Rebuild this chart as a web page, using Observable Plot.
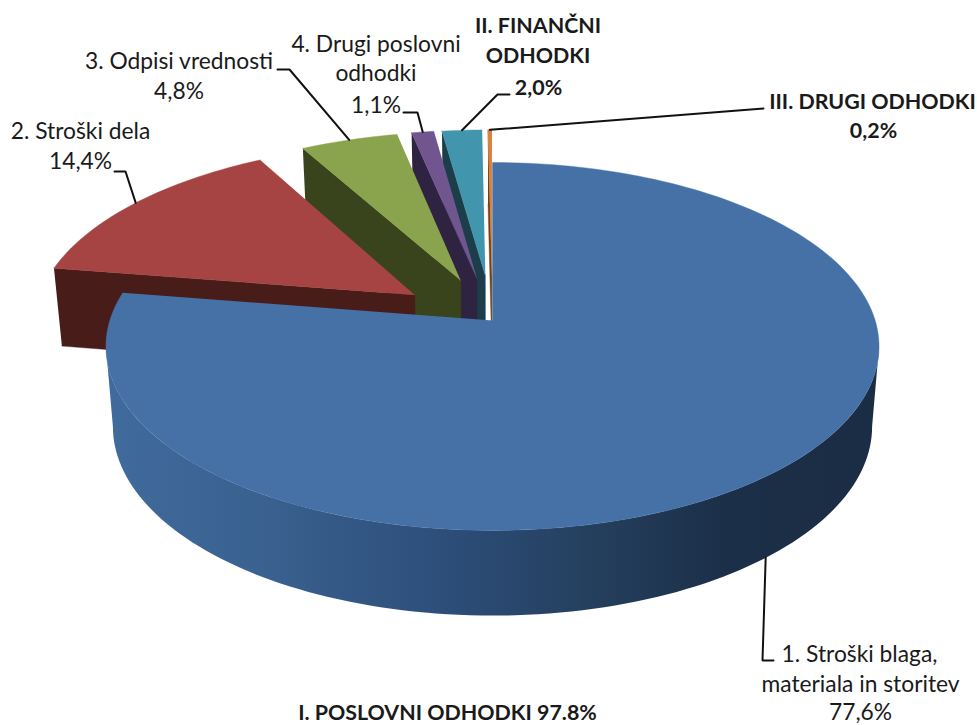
<!DOCTYPE html>
<html>
<head>
<meta charset="utf-8">
<script src="https://cdn.jsdelivr.net/npm/d3@7"></script>
<script src="https://cdn.jsdelivr.net/npm/@observablehq/plot@0.6"></script>
<style>
  html, body { margin: 0; padding: 0; background: #fff; overflow: hidden; }
  svg { display: block; }
</style>
</head>
<body>
<div id="chart"></div>
<script>
// ---- data ----
const categories = [
  "1. Stroški blaga, materiala in storitev",
  "2. Stroški dela",
  "3. Odpisi vrednosti",
  "4. Drugi poslovni odhodki",
  "II. FINANČNI ODHODKI",
  "III. DRUGI ODHODKI"
];
const values = [77.6, 14.4, 4.8, 1.1, 2.0, 0.2];
const topColors = ["#4571a6", "#a54442", "#8aa44d", "#71558f", "#4196ae", "#d9813c"];
const faceColors = ["#1b2e45", "#481c19", "#39431c", "#2e2340", "#1b3e4a", "#6e3f17"];
const labelLines = [
  "1. Stroški blaga,", "materiala in storitev", "77,6%",
  "2. Stroški dela", "14,4%",
  "3. Odpisi vrednosti", "4,8%",
  "4. Drugi poslovni", "odhodki", "1,1%",
  "II. FINANČNI", "ODHODKI", "2,0%",
  "III. DRUGI ODHODKI", "0,2%",
  "I. POSLOVNI ODHODKI 97.8%"
];
const labelBold = [0,0,0, 0,0, 0,0, 0,0,0, 1,1,1, 1,1, 1];

// ---- layout of the 3D projection ----
const cx = 492, cy = 320, R = 382.7, Rb = 180.3, k = 0.141;
const q = 0.982, cy2 = 399.4, Rb2 = 185.3;
const explode = [0, 0.253, 0.245, 0.245, 0.258, 0.258];
const rScale = [1, 1, 1, 1, 0.985, 0.985];
const labelX = [859, 860, 860, 80, 80, 178.5, 178.5, 375.5, 375.5, 375.5, 537.5, 537.5, 538, 872, 873, 447];
const labelBase = [661, 691, 719, 138, 168, 68, 98, 51, 80, 112, 32, 62, 94, 108, 137, 719];
const fontSizes = [22.8, 21.4];
// leader bends: from the slice's mid-arc point through these to the label
const leaderBends = [
  [[762, 660], [773, 660]],
  [[125, 171], [114, 171]],
  [[289, 69], [277, 69]],
  [[417, 112], [403, 112]],
  [[497, 94], [509, 94]],
  [[763, 108]]
];

const rad = d => d * Math.PI / 180;
const total = d3.sum(values);
let acc = 0;
const slices = values.map((v, i) => {
  const a0 = acc / total * 360; acc += v;
  const a1 = acc / total * 360;
  return { i, a0, a1, mid: (a0 + a1) / 2, e: explode[i], r: rScale[i] };
});

function pt(s, theta, r, bottom) {
  const X = r * Math.sin(rad(theta)) + s.e * Math.sin(rad(s.mid));
  const Z = r * Math.cos(rad(theta)) + s.e * Math.cos(rad(s.mid));
  const f = 1 / (1 + k * Z);
  return bottom
    ? { x: cx + R * q * X * f, y: cy2 - Rb2 * Z * f }
    : { x: cx + R * X * f, y: cy - Rb * Z * f };
}
function arc(s, a0, a1, bottom) {
  const n = Math.max(2, Math.ceil(Math.abs(a1 - a0) / 1.5));
  return d3.range(n + 1).map(j => pt(s, a0 + (a1 - a0) * j / n, s.r, bottom));
}
const poly = (pts, fill) => Plot.line(pts, { x: "x", y: "y", fill, stroke: fill.startsWith("url") ? "none" : fill, strokeWidth: 0.4 });

const defs = () => {
  const d = d3.create("svg:defs");
  const g = d.append("linearGradient").attr("id", "mainWall").attr("x1", 0).attr("x2", 1).attr("y1", 0).attr("y2", 0);
  [[0, "#406b9c"], [0.2, "#3a6190"], [0.45, "#2c4d78"], [0.62, "#25405f"], [0.8, "#1b2f48"], [1, "#1b2d44"]]
    .forEach(([o, c]) => g.append("stop").attr("offset", o).attr("stop-color", c));
  return d.node();
};

const marks = [defs];
// back slices first, nearest last
for (const i of [5, 4, 3, 2, 1]) {
  const s = slices[i];
  const tipT = pt(s, s.mid, 0, false), tipB = pt(s, s.mid, 0, true);
  const outerT = pt(s, s.a0, s.r, false), outerB = pt(s, s.a0, s.r, true);
  marks.push(poly([outerT, tipT, tipB, outerB], faceColors[i]));
  marks.push(poly([tipT, ...arc(s, s.a0, s.a1, false)], topColors[i]));
}
// main slice: curved wall, then top
const m = slices[0];
const extreme = Math.acos(-k) * 180 / Math.PI;
marks.push(poly([...arc(m, extreme, 360 - extreme, false), ...arc(m, 360 - extreme, extreme, true)], "url(#mainWall)"));
marks.push(poly([pt(m, m.mid, 0, false), ...arc(m, m.a0, m.a1, false)], topColors[0]));

// leaders
slices.forEach((s, i) => {
  const start = pt(s, s.mid, s.r, i === 0);
  const path = [start, ...leaderBends[i].map(([x, y]) => ({ x, y }))];
  marks.push(Plot.line(path, { x: "x", y: "y", stroke: "#111", strokeWidth: 2, strokeLinejoin: "miter" }));
});

// labels
const labelRows = labelLines.map((t, i) => ({ t, x: labelX[i], y: labelBase[i] - 0.32 * fontSizes[labelBold[i]], b: labelBold[i] }));
for (const b of [0, 1]) {
  marks.push(Plot.text(labelRows.filter(d => d.b === b), {
    x: "x", y: "y", text: "t", textAnchor: "middle", lineAnchor: "middle",
    fontSize: fontSizes[b], fontFamily: "Lato", fontWeight: b ? 700 : 400, fill: "#1a1a1a"
  }));
}

const chart = Plot.plot({
  width: 977, height: 725, margin: 0,
  x: { domain: [0, 977], axis: null },
  y: { domain: [725, 0], axis: null },
  marks
});
document.getElementById("chart").append(chart);
</script>
</body>
</html>
